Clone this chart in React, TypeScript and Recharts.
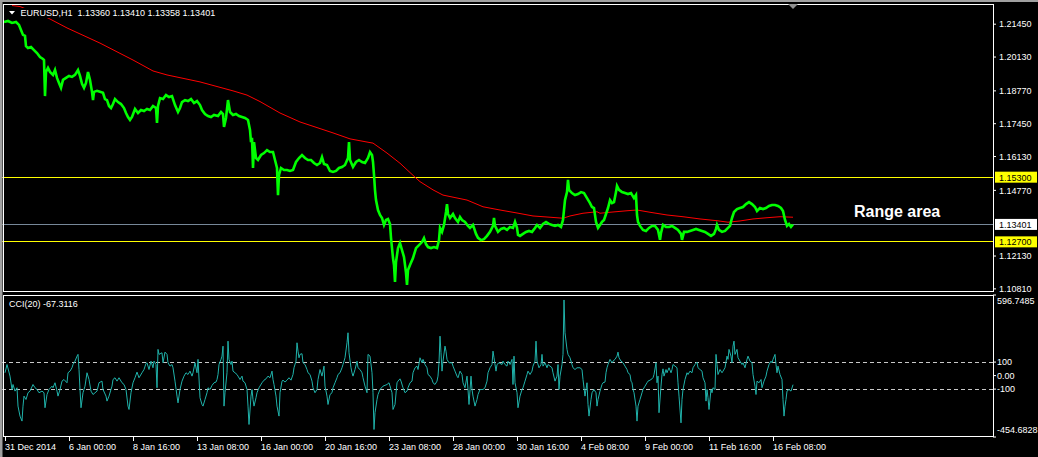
import React from "react";
import { LineChart, Line, XAxis, YAxis, ReferenceLine } from "recharts";

// EURUSD H1, 31 Dec 2014 - 16 Feb 2015. Every tuple is [bar index, value],
// bar index = hourly bar counted from the left edge of the window.

const eurusdClose: [number, number][] = [
  [4, 1.2154], [8, 1.2158], [12, 1.215], [16, 1.2154], [19, 1.2142], [21, 1.2122], [23, 1.2102], [25, 1.2098],
  [26, 1.2057], [28, 1.2049], [31, 1.2053], [34, 1.2041], [37, 1.2029], [40, 1.2013], [43, 1.2005], [44, 1.2001],
  [45, 1.1856], [46, 1.1953], [48, 1.1969], [50, 1.1953], [53, 1.1941], [55, 1.1961], [57, 1.1929], [59, 1.1909],
  [61, 1.1889], [63, 1.1921], [66, 1.1929], [69, 1.1937], [72, 1.1933], [75, 1.1941], [78, 1.1961], [80, 1.1937],
  [82, 1.1905], [84, 1.1889], [86, 1.1909], [88, 1.1953], [90, 1.1921], [92, 1.1873], [93, 1.184], [94, 1.1873],
  [97, 1.1877], [100, 1.1873], [103, 1.1869], [105, 1.1844], [107, 1.184], [109, 1.1816], [111, 1.1808], [113, 1.1824],
  [115, 1.1844], [118, 1.1832], [121, 1.1824], [124, 1.1808], [126, 1.1788], [128, 1.1772], [130, 1.176], [132, 1.1772],
  [135, 1.1804], [138, 1.1788], [141, 1.18], [144, 1.1796], [147, 1.1804], [150, 1.18], [153, 1.1816], [156, 1.1808],
  [157, 1.1748], [158, 1.1816], [160, 1.1848], [163, 1.1844], [166, 1.186], [169, 1.1852], [172, 1.1856], [175, 1.182],
  [178, 1.1792], [180, 1.1808], [182, 1.1832], [185, 1.184], [188, 1.1836], [191, 1.1844], [194, 1.1828], [197, 1.1836],
  [200, 1.182], [202, 1.18], [205, 1.1784], [208, 1.1776], [211, 1.1772], [214, 1.178], [218, 1.1776], [221, 1.1792],
  [223, 1.1784], [224, 1.1732], [226, 1.1768], [228, 1.184], [230, 1.1792], [233, 1.178], [236, 1.1784], [239, 1.1776],
  [242, 1.1772], [245, 1.1768], [248, 1.176], [250, 1.172], [251, 1.1671], [252, 1.1688], [253, 1.1567], [254, 1.1671],
  [256, 1.1607], [258, 1.1599], [261, 1.1619], [264, 1.1627], [267, 1.1639], [270, 1.1631], [273, 1.1631], [275, 1.1599],
  [277, 1.1567], [278, 1.1458], [279, 1.1539], [281, 1.1567], [284, 1.1559], [287, 1.1559], [290, 1.1555], [293, 1.1559],
  [296, 1.1591], [299, 1.1607], [302, 1.1619], [305, 1.1607], [308, 1.1599], [311, 1.1599], [314, 1.1587], [317, 1.1579],
  [320, 1.1587], [322, 1.1611], [324, 1.1583], [327, 1.1579], [330, 1.1555], [333, 1.1551], [336, 1.1555], [339, 1.1567],
  [342, 1.1571], [345, 1.1579], [348, 1.1607], [349, 1.1671], [350, 1.1599], [353, 1.1571], [356, 1.1591], [359, 1.1599],
  [362, 1.1591], [365, 1.1587], [368, 1.1607], [370, 1.1631], [372, 1.1619], [373, 1.1591], [374, 1.1539], [375, 1.1478],
  [376, 1.1438], [378, 1.1398], [380, 1.1378], [382, 1.1366], [384, 1.1338], [386, 1.1358], [388, 1.1362], [390, 1.1342],
  [391, 1.1286], [392, 1.1245], [393, 1.1205], [394, 1.1177], [395, 1.1109], [396, 1.1189], [398, 1.1245], [400, 1.1265],
  [402, 1.1237], [404, 1.1209], [406, 1.1145], [407, 1.1097], [408, 1.1157], [410, 1.1177], [413, 1.1205], [416, 1.1245],
  [419, 1.1257], [422, 1.1269], [424, 1.1285], [426, 1.1261], [428, 1.1249], [431, 1.1245], [434, 1.1249], [437, 1.1245],
  [439, 1.1277], [440, 1.1326], [442, 1.131], [444, 1.1338], [446, 1.139], [447, 1.1422], [448, 1.1382], [450, 1.1366],
  [453, 1.1382], [455, 1.1366], [458, 1.135], [460, 1.137], [462, 1.1358], [465, 1.135], [468, 1.1334], [470, 1.1326],
  [473, 1.1338], [476, 1.1302], [478, 1.1286], [481, 1.1277], [484, 1.1281], [487, 1.1294], [490, 1.131], [493, 1.1334],
  [494, 1.1366], [495, 1.1334], [498, 1.131], [501, 1.1322], [504, 1.1326], [507, 1.1318], [510, 1.133], [513, 1.1326],
  [515, 1.135], [517, 1.1326], [518, 1.1298], [520, 1.1294], [523, 1.1302], [526, 1.131], [529, 1.1314], [532, 1.131],
  [535, 1.1326], [537, 1.1338], [540, 1.1326], [543, 1.1342], [546, 1.135], [549, 1.1342], [552, 1.1338], [555, 1.1334],
  [558, 1.1338], [561, 1.133], [563, 1.1358], [565, 1.1438], [567, 1.147], [568, 1.1519], [569, 1.1479], [572, 1.1466],
  [575, 1.1458], [578, 1.1462], [581, 1.147], [584, 1.1466], [587, 1.1446], [590, 1.1426], [592, 1.141], [594, 1.1406],
  [596, 1.135], [598, 1.1326], [600, 1.1338], [602, 1.135], [604, 1.1358], [606, 1.1382], [608, 1.1406], [610, 1.1438],
  [612, 1.1426], [614, 1.143], [616, 1.147], [617, 1.1495], [619, 1.1479], [622, 1.147], [625, 1.1466], [628, 1.1462],
  [631, 1.1466], [634, 1.1446], [636, 1.1458], [637, 1.1378], [638, 1.135], [640, 1.1334], [643, 1.1318], [646, 1.1314],
  [649, 1.1326], [652, 1.1334], [655, 1.1334], [658, 1.1318], [660, 1.1278], [661, 1.1306], [663, 1.1338], [666, 1.133],
  [669, 1.133], [672, 1.1334], [675, 1.1326], [678, 1.1318], [681, 1.1302], [682, 1.1278], [684, 1.131], [687, 1.131],
  [690, 1.1314], [693, 1.1318], [696, 1.1322], [699, 1.1318], [702, 1.1314], [705, 1.131], [708, 1.1302], [711, 1.1294],
  [714, 1.1302], [716, 1.1322], [717, 1.1338], [719, 1.1318], [722, 1.131], [725, 1.1314], [728, 1.1326], [730, 1.1334],
  [732, 1.1366], [734, 1.139], [737, 1.1402], [740, 1.1406], [743, 1.141], [746, 1.1422], [749, 1.143], [752, 1.1422],
  [755, 1.141], [757, 1.1394], [760, 1.1406], [763, 1.1402], [766, 1.1406], [769, 1.1414], [772, 1.1418], [775, 1.1418],
  [778, 1.1414], [781, 1.1406], [783, 1.1394], [785, 1.1358], [787, 1.1334], [789, 1.1342], [791, 1.133], [793, 1.134],
];

// red moving average
const movingAvg: [number, number][] = [
  [12, 1.222], [20, 1.2216], [48, 1.217], [67, 1.213], [100, 1.2069], [133, 1.2001], [153, 1.1957], [167, 1.1941],
  [200, 1.1913], [233, 1.1877], [247, 1.186], [260, 1.1834], [280, 1.1788], [300, 1.1752], [333, 1.1708], [350, 1.1684],
  [370, 1.1669], [373, 1.1667], [387, 1.1627], [400, 1.1586], [415, 1.153], [420, 1.1512], [433, 1.1479], [443, 1.1458],
  [467, 1.1438], [483, 1.1411], [500, 1.1398], [517, 1.1386], [533, 1.1374], [550, 1.1369], [563, 1.1365], [570, 1.1374],
  [583, 1.1385], [597, 1.1391], [600, 1.1385], [610, 1.1389], [627, 1.1395], [637, 1.1398], [650, 1.1389], [667, 1.1378],
  [683, 1.1371], [700, 1.1362], [717, 1.1355], [728, 1.1349], [740, 1.1354], [753, 1.1362], [767, 1.1367], [780, 1.1371],
  [793, 1.1369],
];

const cci20: [number, number][] = [
  [5, 21], [7, 82], [10, -4], [12, -103], [13, -66], [15, -115], [17, -90], [18, -226], [20, -300], [22, -337],
  [23, -226], [24, -152], [26, -177], [28, -127], [30, -115], [33, -66], [35, -90], [37, -103], [39, -127], [42, -115],
  [44, -127], [45, -238], [47, -140], [49, -103], [52, -78], [53, -90], [55, -53], [57, -115], [58, -152], [60, -103],
  [62, -41], [64, -29], [67, -53], [68, 21], [70, 33], [72, 58], [73, 82], [75, 107], [77, 144], [78, 157],
  [79, 45], [80, -103], [81, -238], [83, -127], [85, -78], [87, 21], [89, -29], [91, -115], [93, -140], [97, -115],
  [99, -53], [102, -41], [103, -103], [106, -152], [107, -189], [109, -152], [112, -78], [113, -29], [115, -16], [117, -41],
  [119, -16], [122, -53], [124, -66], [126, -103], [128, -226], [129, -251], [131, -127], [133, -53], [135, -16], [137, 26],
  [139, -16], [142, 21], [144, 45], [146, 90], [147, 95], [149, 45], [151, 107], [153, 58], [154, 107], [156, 82],
  [157, -90], [158, 194], [159, 157], [162, 169], [163, 95], [165, 174], [167, 157], [168, 95], [170, 70], [172, 82],
  [173, 58], [175, -41], [177, -152], [178, -202], [180, -103], [182, -41], [184, -4], [186, 21], [188, 8], [190, 33],
  [192, -4], [193, 21], [195, 95], [197, 21], [198, 120], [200, -164], [202, -214], [203, -226], [205, -177], [207, -127],
  [208, -90], [210, -103], [212, -73], [214, -53], [216, -48], [217, -29], [218, 8], [219, 82], [221, 120], [222, 144],
  [223, 218], [224, -226], [225, -127], [227, 21], [228, 255], [229, 120], [231, 82], [232, 107], [233, 33], [235, 21],
  [237, 8], [238, -4], [240, -29], [242, -4], [243, -41], [245, -53], [247, -103], [248, -226], [249, -362], [251, -152],
  [252, -103], [253, -177], [254, -226], [256, -164], [257, -127], [259, -90], [262, -53], [264, -34], [266, -24], [268, -4],
  [270, -16], [272, 33], [273, -29], [274, -66], [276, -152], [277, -226], [279, -300], [280, -127], [282, -41], [283, -34],
  [285, -48], [287, -34], [289, -16], [291, -34], [293, 8], [294, 58], [296, 107], [297, 243], [298, 181], [299, 132],
  [300, 157], [302, 162], [303, 95], [305, 82], [307, 45], [308, 21], [310, 8], [312, -41], [313, -90], [315, -127],
  [317, -103], [318, -29], [320, 45], [322, -4], [323, 33], [324, 70], [325, -78], [327, -152], [328, -214], [330, -140],
  [332, -127], [333, -90], [335, -53], [337, -16], [338, 8], [340, 21], [342, 58], [343, 82], [345, 132], [347, 243],
  [348, 317], [349, 169], [351, 58], [352, 21], [353, -4], [355, 45], [357, 107], [358, 58], [360, 45], [362, 21],
  [363, -16], [365, -78], [367, -127], [368, 157], [370, 144], [372, 21], [373, -127], [374, -399], [375, -275], [377, -177],
  [378, -140], [380, -103], [383, -78], [387, -66], [389, -53], [392, -127], [393, -251], [395, -214], [397, -53], [398, -41],
  [400, -24], [401, -41], [403, -90], [405, -127], [407, -115], [408, -90], [410, -53], [412, -41], [413, 21], [415, 58],
  [417, 70], [418, 45], [420, 132], [422, 95], [423, 120], [425, 82], [427, 58], [428, 8], [430, -4], [432, -29],
  [433, -53], [435, -66], [437, -41], [438, -4], [439, 95], [440, 292], [441, 169], [442, 33], [443, 107], [445, 218],
  [446, 181], [447, 120], [449, 95], [452, 95], [453, 70], [455, 33], [457, -4], [458, -16], [460, 33], [462, 8],
  [463, -53], [465, -90], [467, -4], [468, -103], [469, -214], [471, -4], [472, -103], [473, -152], [475, -226], [477, -177],
  [478, -140], [480, -103], [483, -103], [485, -90], [487, -41], [488, 21], [490, 58], [492, 82], [493, 181], [494, 132],
  [496, 33], [497, 82], [499, 95], [502, 82], [503, 107], [505, 82], [507, 70], [508, 107], [510, 82], [512, 120],
  [513, -66], [514, 144], [515, -53], [517, -127], [518, -238], [520, -152], [522, -103], [523, -90], [525, -41], [527, 8],
  [528, 33], [530, 8], [532, 33], [533, 70], [535, 107], [536, 255], [537, 107], [539, 58], [541, 82], [542, 157],
  [543, 70], [545, 95], [547, 58], [548, 82], [550, 70], [552, 58], [553, 21], [555, -41], [557, -4], [558, 82],
  [559, -103], [560, -4], [562, 82], [563, 157], [564, 560], [565, 317], [567, 194], [568, 157], [570, 132], [572, 82],
  [573, 58], [575, 45], [577, 58], [580, 58], [582, 45], [583, -29], [585, -152], [587, -53], [588, -214], [589, -300],
  [591, -177], [592, -127], [594, -103], [596, -127], [597, -226], [598, -177], [600, -115], [602, -66], [603, -53], [605, -48],
  [606, 21], [607, 58], [608, 82], [610, 120], [612, 95], [613, 107], [615, 120], [617, 144], [618, 174], [619, 132],
  [621, 107], [623, 95], [625, 70], [627, 45], [628, 21], [630, 8], [631, -41], [632, -53], [633, -103], [634, -127],
  [636, -226], [637, -337], [638, -226], [640, -177], [642, -127], [643, -103], [645, -78], [647, -53], [648, -41], [650, -34],
  [652, -24], [653, -16], [654, 8], [656, 95], [657, -53], [658, -4], [659, -275], [661, -78], [662, 8], [663, 50],
  [664, -4], [666, 45], [667, 21], [669, 58], [671, 21], [672, 45], [673, 82], [675, 70], [677, 58], [678, -53],
  [679, -152], [681, -350], [682, -177], [683, -103], [685, -29], [687, 21], [688, 8], [690, 33], [692, 21], [693, 58],
  [695, 82], [697, 100], [698, 58], [700, 45], [702, 33], [703, -16], [705, -53], [706, -189], [707, -103], [708, -164],
  [709, -251], [711, -103], [712, -127], [713, -90], [715, -103], [716, 157], [717, 82], [718, 8], [720, 45], [722, 21],
  [723, 33], [725, 58], [727, 144], [728, 120], [729, 194], [731, 144], [732, 95], [733, 218], [734, 255], [735, 157],
  [737, 194], [738, 132], [740, 107], [742, 82], [743, 95], [745, 58], [747, 120], [748, 144], [750, 107], [752, 95],
  [753, 8], [755, -78], [756, -140], [757, -41], [759, -53], [761, -29], [762, -90], [764, -41], [766, -4], [767, 33],
  [769, 82], [771, 107], [772, 95], [773, 120], [775, 157], [776, 82], [777, 21], [778, 70], [780, 8], [782, -29],
  [783, -177], [784, -300], [785, -226], [786, -177], [787, -115], [789, -103], [791, -115], [793, -67.3116],
];

const priceTicks = [1.2145, 1.2013, 1.1877, 1.1745, 1.1613, 1.1477, 1.1213, 1.1081];
const priceMin = 1.10684;
const priceMax = 1.22262;
const rangeHigh = 1.153;
const rangeLow = 1.127;
const lastBid = 1.13401;
const ohlc = ["1.13360", "1.13410", "1.13358", "1.13401"];

const cciMax = 596.7485;
const cciMin = -454.6828;
const cciTicks = [cciMax, 100, 0, -100, cciMin];
const cciLevels = [100, -100];

const timeTickBars = [5, 69, 133, 197, 261, 325, 389, 453, 517, 581, 645, 709, 773];
const timeTickLabels = [
  "31 Dec 2014", "6 Jan 00:00", "8 Jan 16:00", "13 Jan 08:00", "16 Jan 00:00", "20 Jan 16:00", "23 Jan 08:00",
  "28 Jan 00:00", "30 Jan 16:00", "4 Feb 08:00", "9 Feb 00:00", "11 Feb 16:00", "16 Feb 08:00",
];

const toRows = (pts: [number, number][]) => pts.map(([bar, v]) => ({ bar, v }));
const priceRows = toRows(eurusdClose);
const maRows = toRows(movingAvg);
const cciRows = toRows(cci20);

const W = 1038;
const BARS = 993;
const FONT = "'Liberation Sans', Arial, sans-serif";
const YELLOW = "#ffff00";
const BID = "#778899";

function PriceTag({ viewBox, text, bg }: any) {
  const x = viewBox.x + viewBox.width + 2;
  const y = viewBox.y;
  return (
    <g>
      <rect x={x} y={y - 5.5} width={42} height={11} fill={bg} />
      <text x={x + 4} y={y + 3.5} fontSize={9} fill="#000" fontFamily={FONT}>
        {text}
      </text>
    </g>
  );
}

function CciTick({ x, y, payload }: any) {
  const v = payload.value;
  let dy = 3.2;
  if (v === cciMax) dy += 6;
  if (v === cciMin) dy -= 7;
  const txt = v === 0 ? "0.00" : Math.abs(v) === 100 ? String(v) : v.toFixed(4);
  return (
    <text x={x} y={y + dy} fontSize={9} fill="#fff" fontFamily={FONT}>
      {txt}
    </text>
  );
}

function TimeTick({ x, y, payload }: any) {
  const i = timeTickBars.indexOf(payload.value);
  return (
    <g>
      <line x1={x} x2={x} y1={y} y2={y + 4} stroke="#fff" shapeRendering="crispEdges" />
      <text x={x} y={y + 12.5} fontSize={9} fill="#fff" fontFamily={FONT}>
        {timeTickLabels[i]}
      </text>
    </g>
  );
}

export default function App() {
  return (
    <div style={{ position: "relative", width: W, height: 457, background: "#000", overflow: "hidden", fontFamily: FONT }}>
      <style>{"body{margin:0;background:#000}"}</style>

      <div style={{ position: "absolute", left: 0, top: 0 }}>
        <LineChart width={W} height={295} margin={{ top: 4, right: 0, bottom: 3, left: 0 }}>
          <XAxis dataKey="bar" type="number" domain={[0, BARS]} hide allowDataOverflow />
          <YAxis
            orientation="right"
            width={45}
            domain={[priceMin, priceMax]}
            allowDataOverflow
            ticks={priceTicks}
            interval={0}
            tickFormatter={(v: number) => v.toFixed(5)}
            tick={{ fill: "#fff", fontSize: 9 }}
            tickSize={3}
            tickMargin={3}
            tickLine={{ stroke: "#fff" }}
            axisLine={false}
          />
          <ReferenceLine
            y={rangeHigh}
            stroke={YELLOW}
            style={{ stroke: YELLOW }}
            shapeRendering="crispEdges"
            label={<PriceTag text="1.15300" bg={YELLOW} />}
          />
          <ReferenceLine
            y={rangeLow}
            stroke={YELLOW}
            style={{ stroke: YELLOW }}
            shapeRendering="crispEdges"
            label={<PriceTag text="1.12700" bg={YELLOW} />}
          />
          <ReferenceLine
            y={lastBid}
            stroke={BID}
            style={{ stroke: BID }}
            shapeRendering="crispEdges"
            label={<PriceTag text="1.13401" bg="#ffffff" />}
          />
          <Line
            data={maRows}
            dataKey="v"
            stroke="#ff0000"
            strokeWidth={1}
            dot={false}
            activeDot={false}
            isAnimationActive={false}
          />
          <Line
            data={priceRows}
            dataKey="v"
            stroke="#00ff00"
            strokeWidth={2.6}
            dot={false}
            activeDot={false}
            isAnimationActive={false}
          />
        </LineChart>
      </div>

      <div style={{ position: "absolute", left: 0, top: 293 }}>
        <LineChart width={W} height={164} margin={{ top: 2, right: 0, bottom: 0, left: 0 }}>
          <XAxis
            dataKey="bar"
            type="number"
            domain={[0, BARS]}
            allowDataOverflow
            ticks={timeTickBars}
            interval={0}
            height={20}
            tickSize={0}
            tickMargin={0}
            tickLine={false}
            axisLine={false}
            tick={<TimeTick />}
          />
          <YAxis
            orientation="right"
            width={45}
            domain={[cciMin, cciMax]}
            allowDataOverflow
            ticks={cciTicks}
            interval={0}
            tick={<CciTick />}
            tickSize={3}
            tickMargin={1}
            tickLine={{ stroke: "#fff" }}
            axisLine={false}
          />
          {cciLevels.map((lv) => (
            <ReferenceLine key={lv} y={lv} stroke="#c8c8c8" strokeDasharray="4 3" shapeRendering="crispEdges" />
          ))}
          <Line
            data={cciRows}
            dataKey="v"
            stroke="#20b2aa"
            strokeWidth={1}
            dot={false}
            activeDot={false}
            isAnimationActive={false}
          />
        </LineChart>
      </div>

      <svg width={W} height={457} style={{ position: "absolute", left: 0, top: 0, pointerEvents: "none" }}>
        <rect x={0} y={0} width={W} height={2} fill="#a0a0a0" />
        <rect x={0} y={0} width={2.5} height={457} fill="#a0a0a0" />
        <rect x={3.5} y={4.5} width={990} height={287} fill="none" stroke="#fff" shapeRendering="crispEdges" />
        <rect x={3.5} y={295.5} width={990} height={141} fill="none" stroke="#fff" shapeRendering="crispEdges" />
        <polygon points="788,4 798,4 793,9" fill="#909090" />
        <rect x={17} y={8} width={206} height={10} fill="#000" />
        <polygon points="9,11 15,11 12,14.5" fill="#fff" />
        <text x={20.5} y={16.3} fontSize={9} fill="#fff" fontFamily={FONT} xmlSpace="preserve">
          {`EURUSD,H1  ${ohlc.join(" ")}`}
        </text>
        <text x={9} y={307} fontSize={9} fill="#fff" fontFamily={FONT}>
          CCI(20) -67.3116
        </text>
        <text x={854} y={217} fontSize={16} fontWeight="bold" fill="#fff" fontFamily={FONT}>
          Range area
        </text>
      </svg>
    </div>
  );
}
